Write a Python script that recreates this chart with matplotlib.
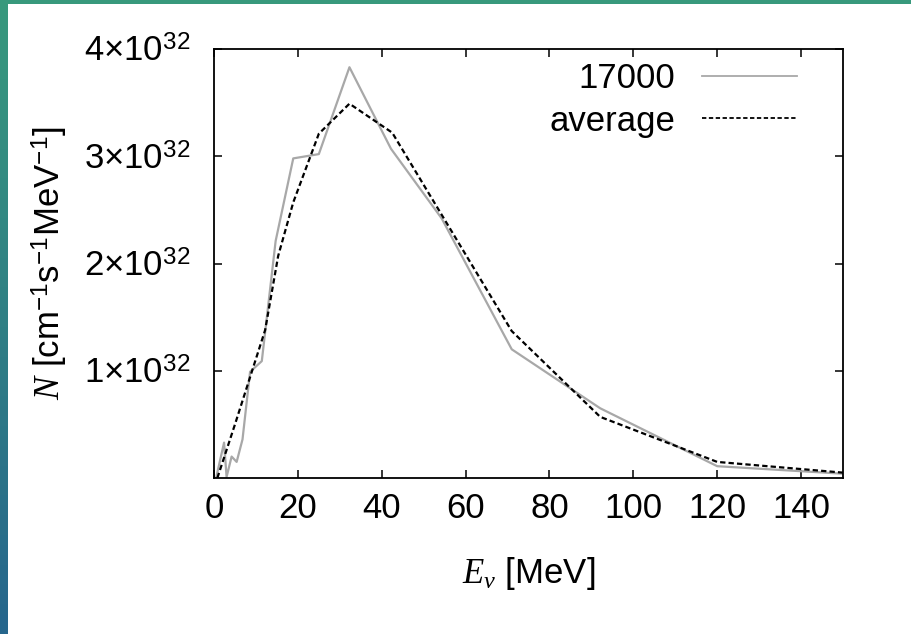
import matplotlib
matplotlib.use('Agg')
import matplotlib.pyplot as plt
import numpy as np
from matplotlib.ticker import FixedLocator, FuncFormatter

plt.rcParams['font.family'] = ['Liberation Sans', 'DejaVu Sans']
plt.rcParams['mathtext.fontset'] = 'custom'
plt.rcParams['mathtext.rm'] = 'Liberation Sans'
plt.rcParams['mathtext.it'] = 'Liberation Serif:italic'
plt.rcParams['mathtext.bf'] = 'Liberation Sans:bold'

# 数据 (N 以 1e32 为单位)
e_17000 = [0.5, 2.4, 3.0, 4.2, 5.4, 6.8, 8.6, 11.4, 14.7, 18.9, 25.0, 32.3, 42.2, 54.3, 71.0, 92.1, 120.0, 150.0]
n_17000 = [0.0, 0.33, 0.01, 0.20, 0.15, 0.36, 0.99, 1.09, 2.21, 2.98, 3.02, 3.83, 3.07, 2.42, 1.20, 0.65, 0.11, 0.04]

e_avg = [0.8, 5.0, 12.2, 15.3, 18.9, 25.0, 32.3, 42.5, 71.0, 92.1, 120.0, 150.0]
n_avg = [0.0, 0.50, 1.38, 2.07, 2.57, 3.21, 3.49, 3.22, 1.37, 0.57, 0.15, 0.05]

x_ticks = [0, 20, 40, 60, 80, 100, 120, 140]
y_ticks = [1, 2, 3, 4]

FS = 25

fig = plt.figure(figsize=(9.12, 6.34), dpi=100)

# 背景渐变边框
bg = fig.add_axes([0, 0, 1, 1], zorder=-10)
grad = np.linspace(0, 1, 64).reshape(-1, 1)
c_top = np.array([0.22, 0.60, 0.49])
c_bot = np.array([0.15, 0.40, 0.55])
img = c_top[None, None, :] * (1 - grad[:, :, None]) + c_bot[None, None, :] * grad[:, :, None]
bg.imshow(img, aspect='auto', extent=[0, 1, 0, 1])
bg.add_patch(plt.Rectangle((8 / 912, 0), 903 / 912, 1 - 4 / 634, color='white', lw=0))
bg.set_xlim(0, 1)
bg.set_ylim(0, 1)
bg.axis('off')

ax = fig.add_axes([214 / 912, 156 / 634, 629 / 912, 429 / 634])
ax.set_facecolor('white')

ax.plot(e_17000, n_17000, color='#a8a8a8', lw=1.6, label='17000')
ax.plot(e_avg, n_avg, color='black', lw=1.6, linestyle=(0, (2.4, 1.4)), label='average')

ax.set_xlim(0, 150)
ax.set_ylim(0, 4)
ax.xaxis.set_major_locator(FixedLocator(x_ticks))
ax.yaxis.set_major_locator(FixedLocator(y_ticks))
ax.yaxis.set_major_formatter(FuncFormatter(lambda v, p: r'%d$\times$10$^{32}$' % v))
ax.tick_params(direction='in', length=6, width=1.1, top=True, right=True,
               labelsize=FS)
ax.tick_params(axis='y', pad=17)
ax.tick_params(axis='x', pad=10)
for s in ax.spines.values():
    s.set_linewidth(1.3)

ax.set_xlabel(r'$E_{\nu}$ [MeV]', fontsize=FS, labelpad=22)
ax.set_ylabel(r'$N$ [cm$^{-1}$s$^{-1}$MeV$^{-1}$]', fontsize=FS, labelpad=10)

leg = ax.legend(loc='upper right', bbox_to_anchor=(0.927, 0.97), frameon=False,
                markerfirst=False, fontsize=FS, handlelength=2.75, handletextpad=0.75,
                labelspacing=0.28, borderpad=0, borderaxespad=0)
for line in leg.get_lines():
    line.set_linewidth(1.3)

fig.savefig('out.png', dpi=100)
